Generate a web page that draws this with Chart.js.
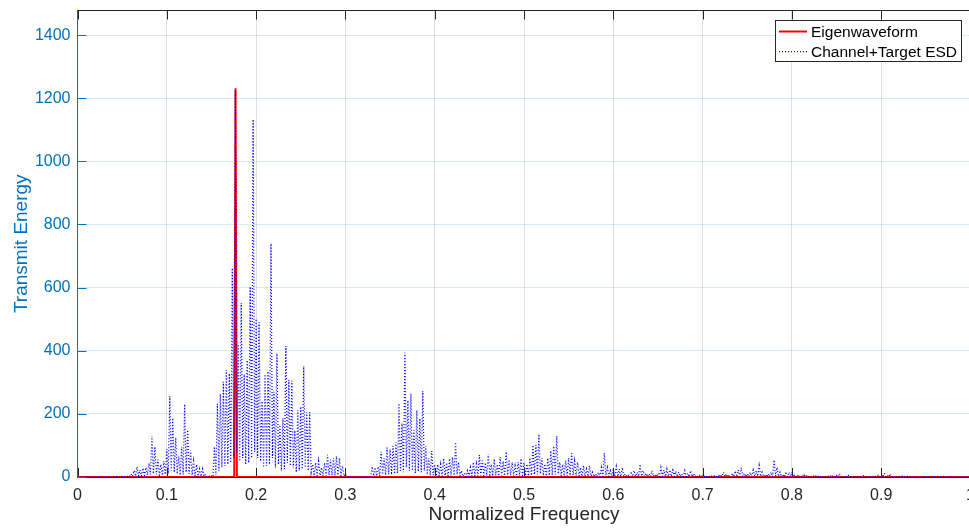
<!DOCTYPE html>
<html>
<head>
<meta charset="utf-8">
<script src="https://cdn.jsdelivr.net/npm/chart.js@4/dist/chart.umd.min.js"></script>
<style>
  html, body { margin: 0; padding: 0; background: #fff; overflow: hidden; }
  #wrap { position: absolute; left: 0; top: 0; width: 975px; height: 529px; }
</style>
</head>
<body>
<div id="wrap"><canvas id="esdChart"></canvas></div>
<script>
// Eigenwaveform: energy sits on one narrow spike
const eigenFreq = [0, 0.1755, 0.177, 0.1785, 1];
const eigenEnergy = [0, 0, 1232, 0, 0];

// Channel+Target ESD, one sample every 1/600 of normalized frequency (0 .. 1)
// each row = 20 samples (1/30 of the axis)
const esdStep = 1 / 600;
const esdEnergy = [
  1, 0, 0, 0, 1, 0, 1, 0, 0, 0, 1, 0, 0, 0, 1, 0, 1, 0, 0, 0,                  // 0.000
  1, 0, 0, 0, 1, 0, 2, 0, 1, 0, 2, 0, 1, 0, 3, 1, 10, 2, 20, 3,                // 0.033
  33, 4, 22, 3, 28, 5, 30, 6, 44, 8, 130, 10, 96, 8, 55, 6, 40, 5, 50, 8,      // 0.067
  88, 10, 256, 20, 187, 15, 125, 10, 65, 6, 96, 8, 231, 15, 149, 10, 85, 6, 50, 4,   // 0.100
  40, 3, 25, 2, 25, 2, 8, 1, 5, 0, 3, 1, 96, 6, 232, 20, 263, 30, 302, 35,           // 0.133
  339, 40, 328, 45, 662, 60, 1225, 80, 420, 50, 551, 60, 325, 40, 370, 45, 603, 60, 1133, 80, // 0.167
  501, 60, 490, 50, 240, 30, 325, 35, 335, 40, 740, 60, 270, 30, 392, 40, 165, 20, 186, 25,   // 0.200
  415, 45, 308, 35, 305, 30, 148, 15, 212, 20, 223, 25, 351, 30, 205, 20, 205, 15, 40, 4,     // 0.233
  45, 4, 50, 5, 30, 3, 45, 4, 70, 6, 55, 5, 60, 5, 66, 6, 60, 5, 35, 3,        // 0.267
  10, 1, 2, 0, 1, 0, 2, 0, 1, 0, 0, 0, 2, 0, 1, 0, 3, 1, 33, 3,                // 0.300
  30, 3, 33, 3, 80, 8, 60, 6, 93, 8, 88, 8, 98, 10, 110, 12, 233, 20, 170, 15, // 0.333
  394, 30, 243, 20, 264, 20, 148, 12, 212, 18, 185, 15, 272, 20, 98, 8, 60, 5, 82, 6, // 0.367
  40, 3, 40, 4, 40, 3, 58, 5, 45, 4, 58, 5, 63, 5, 110, 8, 47, 4, 20, 2,       // 0.400
  12, 1, 20, 2, 30, 3, 47, 4, 41, 3, 70, 5, 52, 4, 45, 4, 73, 6, 40, 3,        // 0.433
  57, 5, 40, 3, 63, 5, 50, 4, 80, 6, 55, 5, 47, 4, 35, 3, 47, 4, 58, 5,        // 0.467
  45, 4, 41, 3, 60, 5, 101, 8, 101, 8, 136, 10, 60, 5, 41, 3, 60, 5, 83, 6,    // 0.500
  98, 8, 130, 10, 47, 4, 40, 3, 52, 4, 60, 5, 75, 6, 50, 4, 47, 4, 30, 2,      // 0.533
  36, 3, 25, 2, 36, 3, 15, 1, 10, 1, 15, 1, 30, 2, 76, 5, 30, 2, 20, 2,        // 0.567
  25, 2, 33, 2, 25, 2, 30, 2, 10, 1, 5, 0, 12, 1, 20, 2, 15, 1, 40, 3,         // 0.600
  20, 2, 12, 1, 10, 1, 20, 2, 8, 1, 12, 1, 30, 2, 22, 2, 25, 2, 22, 2,         // 0.633
  27, 2, 18, 1, 15, 1, 10, 1, 20, 1, 12, 1, 20, 1, 10, 1, 6, 0, 5, 0,          // 0.667
  8, 0, 5, 0, 3, 0, 3, 0, 4, 0, 6, 0, 8, 1, 15, 1, 10, 1, 6, 0,                // 0.700
  12, 1, 19, 1, 22, 1, 30, 2, 12, 1, 10, 1, 15, 1, 22, 2, 20, 1, 36, 2,        // 0.733
  15, 1, 8, 0, 10, 1, 15, 1, 54, 3, 30, 2, 15, 1, 8, 0, 12, 1, 15, 1,          // 0.767
  15, 1, 8, 0, 5, 0, 6, 0, 10, 1, 4, 0, 3, 0, 5, 0, 3, 0, 4, 0,                // 0.800
  3, 0, 2, 0, 4, 0, 3, 0, 6, 0, 5, 0, 10, 1, 4, 0, 3, 0, 5, 0,                 // 0.833
  2, 0, 4, 0, 3, 0, 2, 0, 4, 0, 3, 0, 2, 0, 4, 0, 3, 0, 5, 0,                  // 0.867
  6, 0, 12, 1, 5, 0, 10, 0, 3, 0, 4, 0, 2, 0, 3, 0, 2, 0, 3, 0,                // 0.900
  2, 0, 3, 0, 1, 0, 2, 0, 3, 0, 1, 0, 2, 0, 2, 0, 1, 0, 2, 0,                  // 0.933
  1, 0, 2, 0, 1, 0, 2, 0, 1, 0, 1, 0, 2, 0, 1, 0, 1, 0, 2, 0,                  // 0.967
  1                                                                            // 1.000
];

const xTicks = [0, 0.1, 0.2, 0.3, 0.4, 0.5, 0.6, 0.7, 0.8, 0.9, 1];
const yTicks = [0, 200, 400, 600, 800, 1000, 1200, 1400];

const LEFT_COLOR = '#0072BD';
const AXIS_COLOR = '#262626';
const FONT = '"Liberation Sans", Arial, Helvetica, sans-serif';

const esdPoints = esdEnergy.map((v, i) => ({ x: i * esdStep, y: v }));
const eigenPoints = eigenFreq.map((f, i) => ({ x: f, y: eigenEnergy[i] }));

// ticks pointing inward + top box line (drawn under the data, like matlab)
const matlabAxes = {
  id: 'matlabAxes',
  beforeDatasetsDraw(chart) {
    const { ctx, chartArea: a, scales } = chart;
    const len = 9;
    ctx.save();
    ctx.lineWidth = 1;
    ctx.strokeStyle = AXIS_COLOR;
    ctx.beginPath();
    ctx.moveTo(a.left, Math.floor(a.top) + 0.5);
    ctx.lineTo(a.right, Math.floor(a.top) + 0.5);
    xTicks.forEach(t => {
      const px = Math.round(scales.x.getPixelForValue(t)) + 0.5;
      ctx.moveTo(px, a.bottom);
      ctx.lineTo(px, a.bottom - len);
      ctx.moveTo(px, a.top);
      ctx.lineTo(px, a.top + len);
    });
    ctx.stroke();
    ctx.strokeStyle = LEFT_COLOR;
    ctx.beginPath();
    yTicks.forEach(t => {
      const py = Math.round(scales.y.getPixelForValue(t)) + 0.5;
      ctx.moveTo(a.left, py);
      ctx.lineTo(a.left + len, py);
    });
    ctx.stroke();
    ctx.restore();
  }
};

// boxed legend in the top right corner
const boxLegend = {
  id: 'boxLegend',
  afterDraw(chart) {
    const { ctx } = chart;
    const x0 = 775.5, y0 = 20.5, w = 186, h = 41;
    ctx.save();
    ctx.fillStyle = '#fff';
    ctx.fillRect(x0, y0, w, h);
    ctx.strokeStyle = AXIS_COLOR;
    ctx.lineWidth = 1;
    ctx.strokeRect(x0, y0, w, h);
    const items = chart.data.datasets.slice().reverse();
    items.forEach((ds, i) => {
      const ly = 31 + i * 20;
      ctx.beginPath();
      ctx.strokeStyle = ds.borderColor;
      ctx.lineWidth = ds.borderWidth;
      ctx.setLineDash(ds.borderDash || []);
      ctx.moveTo(779, ly + 0.5);
      ctx.lineTo(807, ly + 0.5);
      ctx.stroke();
      ctx.setLineDash([]);
      ctx.fillStyle = '#000';
      ctx.font = '15.5px ' + FONT;
      ctx.textBaseline = 'alphabetic';
      ctx.fillText(ds.label, 811, ly + 6);
    });
    ctx.restore();
  }
};

new Chart(document.getElementById('esdChart'), {
  type: 'line',
  data: {
    datasets: [
      {
        label: 'Channel+Target ESD',
        data: esdPoints,
        borderColor: '#0000ff',
        borderWidth: 1.25,
        borderDash: [1, 2],
        pointRadius: 0,
        tension: 0,
        fill: false
      },
      {
        label: 'Eigenwaveform',
        data: eigenPoints,
        borderColor: '#ff0000',
        borderWidth: 2,
        pointRadius: 0,
        tension: 0,
        fill: false
      }
    ]
  },
  options: {
    responsive: true,
    maintainAspectRatio: false,
    animation: false,
    devicePixelRatio: 1,
    layout: { padding: { top: 10.5, right: 4.5, bottom: 0, left: 0 } },
    plugins: {
      legend: { display: false },
      tooltip: { enabled: false }
    },
    scales: {
      x: {
        type: 'linear',
        min: 0,
        max: 1,
        afterFit: s => { s.height = 52; s.paddingLeft = 0; s.paddingRight = 0; },
        afterBuildTicks: s => { s.ticks = xTicks.map(v => ({ value: v })); },
        ticks: {
          color: AXIS_COLOR,
          font: { family: FONT, size: 16 },
          padding: 9,
          maxRotation: 0,
          autoSkip: false,
          callback: v => String(+v.toFixed(1))
        },
        grid: { color: 'rgba(38,38,38,0.15)', drawTicks: false, lineWidth: 1 },
        border: { color: AXIS_COLOR, width: 1 },
        title: {
          display: true,
          text: 'Normalized Frequency',
          color: AXIS_COLOR,
          font: { family: FONT, size: 19 },
          padding: { top: 0, bottom: 3 }
        }
      },
      y: {
        min: 0,
        max: 1478,
        afterFit: s => { s.width = 77.5; s.paddingTop = 0; s.paddingBottom = 0; },
        afterBuildTicks: s => { s.ticks = yTicks.map(v => ({ value: v })); },
        ticks: {
          color: LEFT_COLOR,
          font: { family: FONT, size: 16 },
          padding: 7,
          autoSkip: false,
          callback: v => String(v)
        },
        grid: { color: 'rgba(0,114,189,0.15)', drawTicks: false, lineWidth: 1 },
        border: { color: LEFT_COLOR, width: 1 },
        title: {
          display: true,
          text: 'Transmit Energy',
          color: LEFT_COLOR,
          font: { family: FONT, size: 19 },
          padding: { top: 10, bottom: 0 }
        }
      }
    }
  },
  plugins: [matlabAxes, boxLegend]
});
</script>
</body>
</html>
